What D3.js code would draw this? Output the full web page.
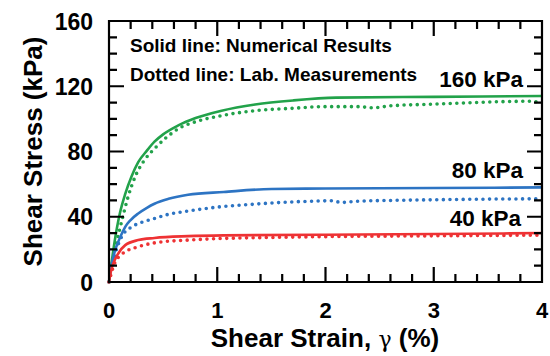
<!DOCTYPE html>
<html>
<head>
<meta charset="utf-8">
<script src="https://cdn.jsdelivr.net/npm/d3@7"></script>
<style>
  body { margin: 0; background: #fff; }
  text { font-family: "Liberation Sans", Arial, sans-serif; font-weight: bold; fill: #000; }
</style>
</head>
<body>
<svg width="550" height="356"></svg>
<script>
// strain (%) and shear stress (kPa)
const strainNum160 = [0, 0.02, 0.05, 0.1, 0.15, 0.21, 0.27, 0.35, 0.42, 0.5, 0.64, 0.8, 1.04, 1.35, 1.7, 2.1, 3.0, 4.0]
const stressNum160 = [0, 10, 24, 42, 54, 65, 73.5, 80.5, 86, 90.5, 96, 100.5, 105, 108.8, 111.3, 113, 113.5, 114]
const strainLab160 = [0, 0.03, 0.07, 0.12, 0.18, 0.24, 0.32, 0.42, 0.52, 0.64, 0.84, 1.04, 1.35, 1.7, 2.0, 2.3, 2.44, 2.6, 3.0, 3.6, 3.9, 4.0]
const stressLab160 = [0, 11, 24, 38, 53, 64.3, 74, 81.7, 88, 93.9, 99, 102, 105, 106.5, 107.5, 107.5, 106.8, 108, 109, 110.5, 110.8, 109.5]

const strainNum80 = [0, 0.02, 0.05, 0.1, 0.15, 0.2, 0.27, 0.35, 0.42, 0.55, 0.73, 1.06, 1.5, 2.0, 3.0, 4.0]
const stressNum80 = [0, 9, 18, 27, 33.8, 38, 42, 45.5, 48, 51, 53.5, 55.2, 57, 57.3, 57.6, 58]
const strainLab80 = [0, 0.03, 0.06, 0.117, 0.21, 0.3, 0.42, 0.55, 0.73, 1.06, 1.3, 1.6, 1.86, 2.05, 2.15, 2.3, 2.6, 3.0, 3.5, 4.0]
const stressLab80 = [0, 10, 18, 27.7, 33.8, 36.5, 38.9, 41.5, 43.5, 46.3, 47.5, 48.8, 49.5, 49.8, 48.8, 49.5, 50, 50.4, 50.8, 51]

const strainNum40 = [0, 0.02, 0.05, 0.086, 0.15, 0.27, 0.42, 0.73, 1.06, 2.0, 3.0, 4.0]
const stressNum40 = [0, 7, 13, 17.5, 22.6, 25.7, 27, 28.1, 28.6, 29, 29.4, 30]
const strainLab40 = [0, 0.02, 0.055, 0.1, 0.148, 0.27, 0.42, 0.73, 1.06, 1.5, 2.0, 3.0, 4.0]
const stressLab40 = [0, 5, 12, 16, 18.5, 21.6, 24, 25.7, 26.7, 27.3, 27.8, 28.3, 28.7]

const xTicks = [0, 1, 2, 3, 4]
const yTicks = [0, 40, 80, 120, 160]
const xMinor = [0.2, 0.4, 0.6, 0.8, 1.2, 1.4, 1.6, 1.8, 2.2, 2.4, 2.6, 2.8, 3.2, 3.4, 3.6, 3.8]
const yMinor = [10, 20, 30, 50, 60, 70, 90, 100, 110, 130, 140, 150]

const series = [
    { label: '160 kPa', color: '#22a24a', num: [strainNum160, stressNum160], lab: [strainLab160, stressLab160], lx: 523, ly: 87 },
    { label: '80 kPa', color: '#2d74c3', num: [strainNum80, stressNum80], lab: [strainLab80, stressLab80], lx: 523, ly: 178 },
    { label: '40 kPa', color: '#ee3234', num: [strainNum40, stressNum40], lab: [strainLab40, stressLab40], lx: 521, ly: 226 }
]

let pLeft = 109, pRight = 542, pTop = 21, pBottom = 282

let svg = d3.select('svg')

let x = d3.scaleLinear().domain([0, 4]).range([pLeft, pRight])
let y = d3.scaleLinear().domain([0, 160]).range([pBottom, pTop])

// tick labels
svg.selectAll('.xlab')
    .data(xTicks)
    .enter()
    .append('text')
    .attr('x', d => x(d))
    .attr('y', 318)
    .attr('text-anchor', 'middle')
    .style('font-size', '22px')
    .text(d => d)

svg.selectAll('.ylab')
    .data(yTicks)
    .enter()
    .append('text')
    .attr('x', 93)
    .attr('y', d => y(d) + 8.5)
    .attr('text-anchor', 'end')
    .style('font-size', '23px')
    .text(d => d)

// axis titles
let xt = svg.append('text')
    .attr('x', 325).attr('y', 347)
    .attr('text-anchor', 'middle')
    .style('font-size', '26px')
xt.append('tspan').text('Shear Strain, ')
xt.append('tspan').text('γ').style('font-family', '"DejaVu Serif", serif').style('font-weight', 'normal').style('font-size', '22px')
xt.append('tspan').text(' (%)')

svg.append('text')
    .attr('transform', 'translate(42,' + (pTop + pBottom) / 2 + ') rotate(-90)')
    .attr('text-anchor', 'middle')
    .style('font-size', '26px')
    .text('Shear Stress (kPa)')

// curves
let lineGen = d3.line()
    .x(d => x(d[0]))
    .y(d => y(d[1]))
    .curve(d3.curveMonotoneX)

function pairs(arr) {
    return arr[0].map((s, i) => [s, arr[1][i]])
}

series.forEach(s => {
    svg.append('path')
        .datum(pairs(s.lab))
        .attr('d', lineGen)
        .attr('fill', 'none')
        .attr('stroke', s.color)
        .attr('stroke-width', 3.6)
        .attr('stroke-linecap', 'round')
        .attr('stroke-dasharray', '0 6.6')

    svg.append('path')
        .datum(pairs(s.num))
        .attr('d', lineGen)
        .attr('fill', 'none')
        .attr('stroke', s.color)
        .attr('stroke-width', 2.6)

    svg.append('text')
        .attr('x', s.lx).attr('y', s.ly)
        .attr('text-anchor', 'end')
        .style('font-size', '22.5px')
        .text(s.label)
})

// notes
svg.append('text').attr('x', 130).attr('y', 52).style('font-size', '19px').text('Solid line: Numerical Results')
svg.append('text').attr('x', 130).attr('y', 81).style('font-size', '19px').text('Dotted line: Lab. Measurements')

// frame plus inward ticks on all four sides, one path
let fp = d3.path()
fp.rect(pLeft, pTop, pRight - pLeft, pBottom - pTop)
xMinor.concat(xTicks).forEach(v => {
    let len = xTicks.includes(v) ? 15 : 8
    fp.moveTo(x(v), pBottom); fp.lineTo(x(v), pBottom - len)
    fp.moveTo(x(v), pTop); fp.lineTo(x(v), pTop + len)
})
yMinor.concat(yTicks).forEach(v => {
    let len = yTicks.includes(v) ? 15 : 8
    fp.moveTo(pLeft, y(v)); fp.lineTo(pLeft + len, y(v))
    fp.moveTo(pRight, y(v)); fp.lineTo(pRight - len, y(v))
})
svg.append('path')
    .attr('d', fp.toString())
    .attr('fill', 'none')
    .attr('stroke', '#000')
    .attr('stroke-width', 2.2)
</script>
</body>
</html>
